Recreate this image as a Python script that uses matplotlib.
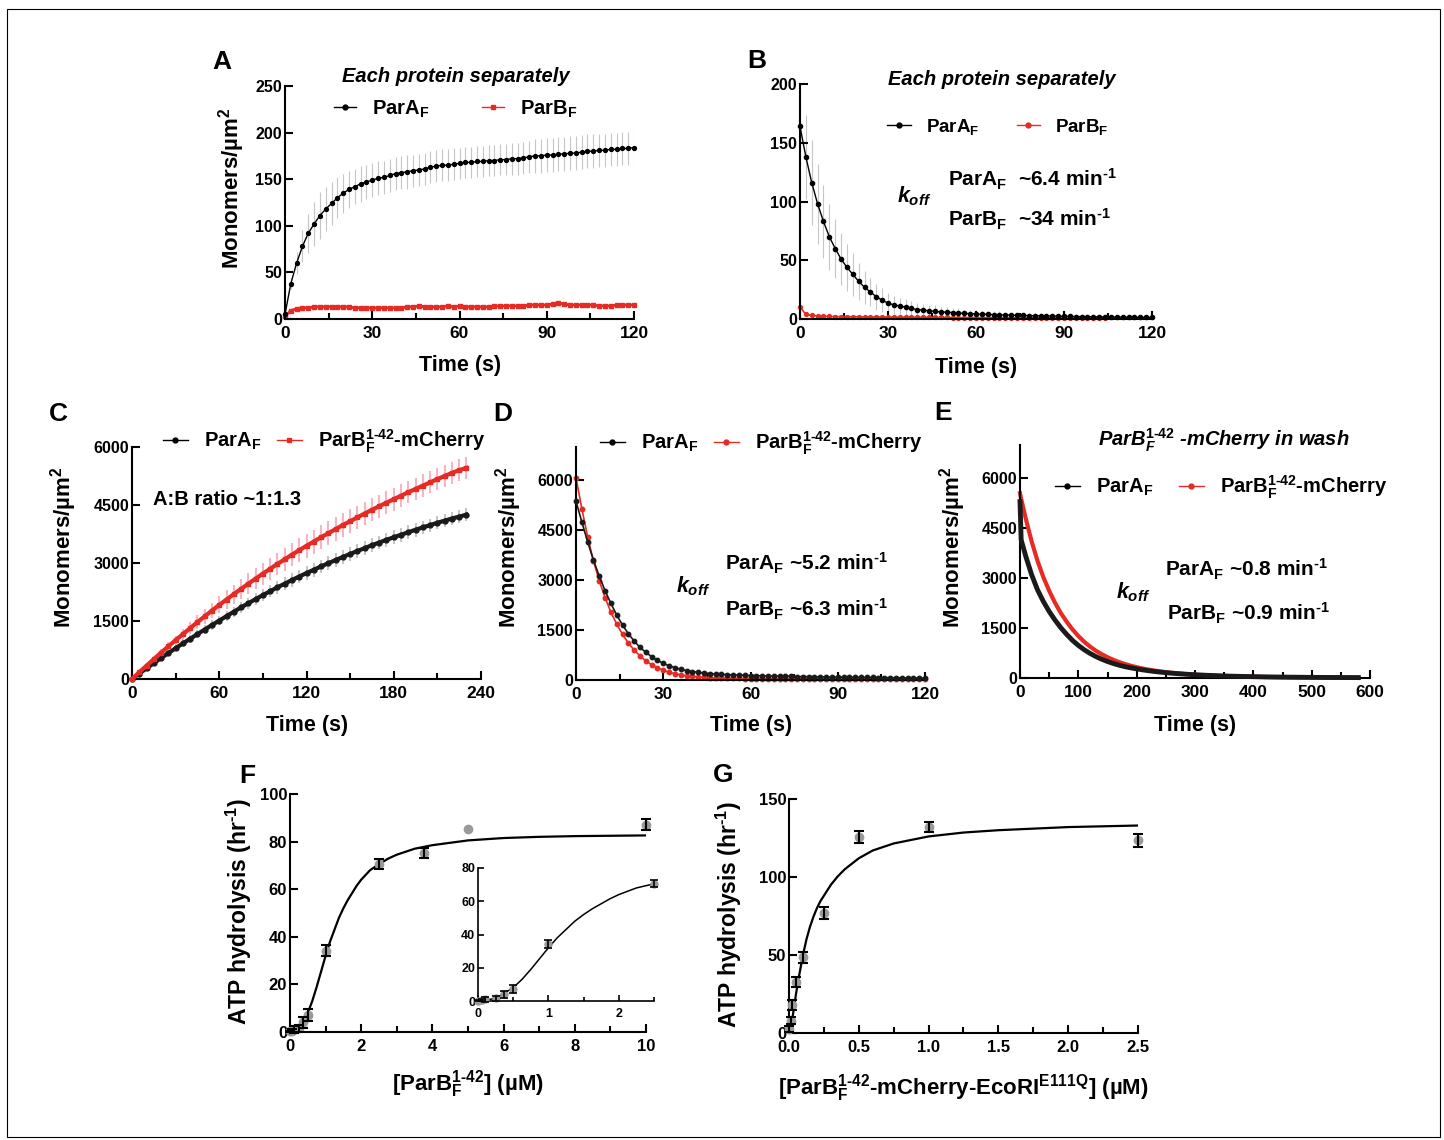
import matplotlib.pyplot as plt
import numpy as np
from matplotlib.lines import Line2D
from matplotlib.patches import Rectangle

plt.rcParams['font.family'] = ['Liberation Sans', 'DejaVu Sans']
plt.rcParams['font.weight'] = 'bold'
plt.rcParams['axes.labelweight'] = 'bold'
plt.rcParams['mathtext.fontset'] = 'custom'
plt.rcParams['mathtext.rm'] = 'Liberation Sans:bold'
plt.rcParams['mathtext.it'] = 'Liberation Sans:bold:italic'
plt.rcParams['mathtext.bf'] = 'Liberation Sans:bold'

RED = '#e62a24'
GREY_ERR = '#c6c6c6'
PINK_ERR = '#f5b5c3'
HY = '\u2010'

# ---- A: each protein separately, binding (s) ----
tA = np.arange(0, 121, 2)
parA_A = [5, 38, 60, 78, 92, 102, 111, 118, 124, 130,
          135, 139, 142, 145, 147, 149, 151, 152, 154, 156,
          157, 158, 159, 160, 161, 163, 164, 165, 165, 166,
          167, 168, 168, 169, 169, 170, 170, 171, 171, 172,
          172, 173, 174, 175, 175, 176, 176, 177, 177, 178,
          178, 179, 180, 180, 181, 181, 182, 182, 183, 183,
          184]
parA_A_err = [1, 6, 12, 17, 21, 24, 25, 24, 23, 22,
              21, 20, 19, 19, 18, 18, 18, 18, 18, 18,
              18, 18, 17, 17, 17, 17, 17, 17, 17, 17,
              17, 17, 17, 17, 17, 17, 17, 17, 17, 17,
              17, 17, 17, 18, 18, 18, 18, 18, 18, 18,
              18, 18, 18, 18, 18, 18, 18, 18, 18, 18,
              18]
parB_A = [3, 9, 11, 12, 12, 13, 13, 13, 13, 13,
          13, 13, 12, 12, 12, 12, 12, 12, 12, 12,
          12, 13, 13, 14, 13, 13, 13, 13, 14, 13,
          14, 13, 13, 13, 13, 13, 14, 14, 14, 14,
          14, 14, 15, 15, 15, 15, 16, 17, 16, 15,
          15, 15, 15, 15, 14, 14, 14, 15, 15, 15,
          15]

# ---- B: each protein separately, dissociation ----
tB = np.arange(0, 121, 2)
parA_B = [164, 138, 116, 98, 83, 70, 60, 51, 44, 38,
          32, 27, 23, 19, 16, 13.5, 12, 11, 10, 9,
          8, 7.5, 7, 6.5, 6, 5.8, 5.5, 5, 4.8, 4.5,
          4.3, 4, 3.9, 3.7, 3.5, 3.4, 3.2, 3.1, 3, 2.9,
          2.8, 2.7, 2.6, 2.5, 2.4, 2.3, 2.2, 2.1, 2, 2,
          1.9, 1.8, 1.8, 1.7, 1.6, 1.6, 1.5, 1.5, 1.4, 1.4,
          1.3]
parA_B_err = [20, 36, 36, 34, 31, 28, 25, 22, 20, 18,
              16, 14, 12, 11, 10, 9, 8, 7, 7, 6,
              6, 5, 5, 5, 4, 4, 4, 4, 3, 3,
              3, 3, 3, 3, 3, 2, 2, 2, 2, 2,
              2, 2, 2, 2, 2, 2, 2, 2, 2, 2,
              2, 2, 2, 2, 2, 2, 2, 2, 2, 2,
              2]
tB_red = np.arange(0, 105, 2)
parB_B = [10, 4, 3, 2.6, 2.4, 2.2, 2.1, 2, 2, 1.9,
          1.9, 1.8, 1.8, 1.7, 1.7, 1.6, 1.6, 1.5, 1.5, 1.5,
          1.4, 1.4, 1.4, 1.3, 1.3, 1.3, 1.2, 1.2, 1.2, 1.2,
          1.1, 1.1, 1.1, 1.1, 1, 1, 1, 1, 1, 0.9,
          0.9, 0.9, 0.9, 0.9, 0.8, 0.8, 0.8, 0.8, 0.8, 0.8,
          0.8, 0.7, 0.7]

# ---- C: co-binding ----
tC = np.arange(0, 231, 5)
parA_C = [0, 140, 275, 410, 540, 670, 795, 920, 1040, 1160,
          1280, 1395, 1510, 1625, 1740, 1850, 1960, 2065, 2170, 2270,
          2370, 2465, 2560, 2650, 2740, 2825, 2910, 2995, 3075, 3155,
          3235, 3310, 3385, 3460, 3530, 3600, 3665, 3730, 3795, 3860,
          3920, 3980, 4040, 4095, 4150, 4200, 4250]
parA_C_err = [0, 20, 35, 50, 60, 70, 80, 90, 100, 110,
              115, 120, 125, 130, 135, 140, 145, 150, 155, 160,
              165, 170, 170, 175, 175, 180, 180, 180, 180, 180,
              180, 180, 180, 180, 180, 180, 180, 175, 175, 175,
              175, 170, 170, 170, 165, 165, 160]
parB_C = [0, 175, 345, 515, 680, 845, 1005, 1160, 1315, 1470,
          1620, 1770, 1915, 2055, 2195, 2330, 2465, 2595, 2725, 2850,
          2975, 3095, 3215, 3330, 3445, 3555, 3665, 3770, 3875, 3980,
          4080, 4180, 4280, 4375, 4470, 4560, 4650, 4740, 4830, 4915,
          5000, 5085, 5170, 5250, 5330, 5400, 5460]
parB_C_err = [0, 25, 45, 65, 85, 105, 120, 140, 160, 175,
              190, 205, 220, 235, 245, 255, 265, 275, 285, 290,
              295, 300, 305, 305, 310, 310, 310, 310, 310, 305,
              305, 305, 300, 300, 300, 295, 295, 295, 290, 290,
              290, 285, 285, 285, 280, 280, 280]

# ---- D: co-dissociation ----
tD = np.arange(0, 121, 2)
parA_D = [5370, 4750, 4150, 3600, 3120, 2680, 2300, 1950, 1650, 1390,
          1170, 980, 830, 700, 590, 500, 430, 370, 320, 285,
          255, 230, 210, 195, 180, 170, 160, 152, 145, 140,
          135, 130, 126, 122, 118, 115, 112, 108, 105, 102,
          100, 97, 95, 92, 90, 88, 86, 84, 82, 80,
          78, 76, 74, 72, 70, 68, 66, 64, 62, 60,
          58]
parB_D = [6070, 5150, 4300, 3580, 2980, 2470, 2040, 1680, 1370, 1110,
          900, 720, 575, 460, 365, 290, 235, 190, 155, 128,
          108, 93, 81, 72, 65, 59, 54, 50, 47, 45,
          43, 41, 39, 37, 36, 35, 34, 33, 32, 31,
          30, 29, 29, 28, 27, 27, 26, 26, 25, 25,
          24, 24, 23, 23, 22, 22, 21, 21, 20, 20,
          20]

# ---- E: ParB in wash ----
tE = [0, 2, 10, 20, 30, 40, 50, 60, 70, 80, 90, 100, 110, 120, 130, 140,
      150, 160, 170, 180, 190, 200, 210, 220, 230, 240, 250, 260, 270, 280,
      290, 300, 320, 340, 360, 380, 400, 420, 440, 460, 480, 500, 520, 540,
      560, 580]
parA_E = [5300, 4150, 3650, 3100, 2650, 2300, 2000, 1740, 1510, 1310,
          1130, 980, 850, 740, 645, 565, 495, 435, 385, 340,
          305, 275, 245, 220, 198, 178, 160, 145, 131, 119,
          108, 98, 81, 67, 56, 47, 40, 34, 29, 25,
          22, 19, 17, 15, 13, 12]
parB_E = [5550, 5380, 4780, 4100, 3520, 3030, 2620, 2260, 1950, 1690,
          1460, 1260, 1090, 945, 820, 715, 625, 545, 478, 420,
          368, 324, 286, 253, 224, 198, 176, 156, 139, 124,
          110, 98, 78, 63, 51, 42, 35, 29, 24, 20,
          17, 15, 13, 11, 10, 9]

# ---- F: ATPase vs ParB 1-42 ----
conc_F = [0, 0.05, 0.1, 0.25, 0.375, 0.5, 1.0, 2.5, 3.75, 5.0, 10.0]
rate_F = [0.3, 0.6, 1.1, 1.6, 4.0, 7.2, 34.2, 70.6, 75.3, 85.5, 87.0]
err_F = [0.3, 0.5, 1.5, 1.5, 2.2, 2.4, 2.4, 2.1, 2.2, 0, 2.3]
fit_F_x = [0, 0.25, 0.5, 0.625, 0.75, 0.875, 1.0, 1.125, 1.25, 1.375, 1.5, 1.625,
           1.75, 1.875, 2.0, 2.25, 2.5, 2.75, 3.0, 3.5, 4.0, 5.0, 6.0, 7.0, 8.0, 10.0]
fit_F_y = [0, 1.5, 8, 13, 19, 25.5, 32, 38, 43, 48, 52, 55.5,
           58.5, 61.5, 64, 68, 70.5, 72.8, 74.5, 77, 78.5, 80.5, 81.5, 82, 82.3, 82.6]

# ---- G: ATPase vs ParB-mCherry-EcoRI ----
conc_G = [0, 0.0125, 0.025, 0.05, 0.1, 0.25, 0.5, 1.0, 2.5]
rate_G = [2.5, 8, 18, 32.5, 48.5, 77, 125.8, 131.8, 123.5]
err_G = [2, 2.5, 3, 3.2, 3.5, 4, 4, 3.2, 4]
fit_G_x = [0, 0.0125, 0.025, 0.0375, 0.05, 0.075, 0.1, 0.125, 0.15, 0.175, 0.2, 0.225,
           0.25, 0.3, 0.35, 0.4, 0.5, 0.6, 0.75, 1.0, 1.25, 1.5, 2.0, 2.5]
fit_G_y = [0, 4, 10, 17, 25, 38, 50, 60, 68, 74.5, 80, 84.5,
           88, 95, 100.5, 105, 112, 117, 121.5, 126, 128.5, 130, 132, 133]

PA = r'ParA$_{\mathrm{F}}$'
PB = r'ParB$_{\mathrm{F}}$'
PB142 = 'ParB$_{\\mathrm{F}}^{\\mathrm{1' + HY + '42}}$-mCherry'
MONO = r'Monomers/µm$^{\mathrm{2}}$'
PERMIN = ' min$^{\\mathrm{' + HY + '1}}$'

W, H = 1444, 1140
fig = plt.figure(figsize=(W / 100, H / 100), dpi=100)


def add_ax(l, t, r, b):
    return fig.add_axes([l / W, 1 - b / H, (r - l) / W, (b - t) / H])


def style(ax, xlim, xmaj, xmin, ylim, ymaj, xfs=12.5, yfs=11.5, lw=1.5, tl=5.5):
    for s in ['top', 'right']:
        ax.spines[s].set_visible(False)
    for s in ['left', 'bottom']:
        ax.spines[s].set_linewidth(lw)
    ax.set_xlim(*xlim)
    ax.set_ylim(*ylim)
    ax.set_xticks(xmaj)
    ax.set_xticks(xmin, minor=True)
    ax.set_yticks(ymaj)
    ax.tick_params(axis='x', which='major', direction='in', length=tl, width=lw, labelsize=xfs, pad=5)
    ax.tick_params(axis='x', which='minor', direction='in', length=tl * 0.8, width=lw)
    ax.tick_params(axis='y', which='major', direction='in', length=tl, width=lw, labelsize=yfs, pad=2)
    ax.patch.set_alpha(0)


def labels(ax, xlab, xc, xtop, ylab=None, yright=None, yc=None, xfs=15.5, yfs=16):
    ax.set_xlabel(xlab, fontsize=xfs)
    ax.xaxis.set_label_coords(xc / W, 1 - xtop / H, transform=fig.transFigure)
    if ylab:
        ax.set_ylabel(ylab, fontsize=yfs)
        ax.yaxis.set_label_coords(yright / W, 1 - yc / H, transform=fig.transFigure)


def legend_at(ax, handles, labs, cx, cy, fs, colsp, hl=1.2):
    ax.legend(handles, labs, ncol=2, loc='center', bbox_to_anchor=(cx / W, 1 - cy / H),
              bbox_transform=fig.transFigure, frameon=False, fontsize=fs,
              handlelength=hl, handletextpad=0.8, columnspacing=colsp,
              borderaxespad=0, borderpad=0)


def ftext(x, y, s, **kw):
    fig.text(x / W, 1 - y / H, s, **kw)


def h(color, marker):
    return Line2D([], [], color=color, marker=marker, ms=3.5, lw=1)


# A
ax = add_ax(285, 86, 634, 319)
ax.errorbar(tA, parA_A, yerr=parA_A_err, fmt='none', ecolor=GREY_ERR, elinewidth=0.8, zorder=1)
ax.plot(tA, parB_A, 's-', color=RED, ms=3, lw=2, zorder=2, clip_on=False)
ax.plot(tA, parA_A, 'o-', color='k', ms=2.8, lw=1, zorder=3, clip_on=False)
style(ax, (0, 120), [0, 30, 60, 90, 120], [15, 45, 75, 105], (0, 250), [0, 50, 100, 150, 200, 250])
labels(ax, 'Time (s)', 460, 355, MONO, 247, 188)
legend_at(ax, [h('k', 'o'), h(RED, 's')], [PA, PB], 456, 109, 14.5, 2.6, hl=1.1)
ftext(456, 82, 'Each protein separately', fontsize=14.5, style='italic', ha='center', va='baseline')

# B
ax = add_ax(800, 84, 1152, 319)
ax.errorbar(tB, parA_B, yerr=parA_B_err, fmt='none', ecolor=GREY_ERR, elinewidth=0.8, zorder=1)
ax.plot(tB, parA_B, 'o-', color='k', ms=3, lw=1, zorder=3, clip_on=False)
ax.plot(tB_red, parB_B, 'o-', color=RED, ms=2.8, lw=1.2, zorder=2, clip_on=False)
style(ax, (0, 120), [0, 30, 60, 90, 120], [15, 45, 75, 105], (0, 200), [0, 50, 100, 150, 200])
labels(ax, 'Time (s)', 976, 357)
legend_at(ax, [h('k', 'o'), h(RED, 'o')], [PA, PB], 998, 127, 13.5, 2.0, hl=1.25)
ftext(1002, 85, 'Each protein separately', fontsize=14.5, style='italic', ha='center', va='baseline')
ftext(897, 202, r'$k_{off}$', fontsize=15.5, ha='left', va='baseline')
ftext(948, 186, PA + '  ~6.4' + PERMIN, fontsize=15, ha='left', va='baseline')
ftext(948, 226, PB + '  ~34' + PERMIN, fontsize=15, ha='left', va='baseline')

# C
ax = add_ax(132, 447, 481, 679)
ax.errorbar(tC, parA_C, yerr=parA_C_err, fmt='none', ecolor=GREY_ERR, elinewidth=1.5, zorder=1)
ax.errorbar(tC, parB_C, yerr=parB_C_err, fmt='none', ecolor=PINK_ERR, elinewidth=1.5, zorder=1)
ax.plot(tC, parA_C, 'o-', color='#1a1a1a', ms=3.5, lw=3, zorder=3, clip_on=False)
ax.plot(tC, parB_C, 's-', color=RED, ms=3.5, lw=3, zorder=4, clip_on=False)
style(ax, (0, 240), [0, 60, 120, 180, 240], [30, 90, 150, 210], (0, 6000), [0, 1500, 3000, 4500, 6000])
labels(ax, 'Time (s)', 307, 715, MONO, 79, 547)
legend_at(ax, [h('k', 'o'), h(RED, 's')], [PA, PB142], 324, 441, 14.5, 0.75, hl=1.25)
ftext(153, 505, 'A:B ratio ~1:1.3', fontsize=14.5, ha='left', va='baseline')

# D
ax = add_ax(576, 447, 925, 680)
ax.plot(tD, parB_D, 'o-', color=RED, ms=3.2, lw=1.2, zorder=2, clip_on=False)
ax.plot(tD, parA_D, 'o-', color='#1a1a1a', ms=3.2, lw=1.2, zorder=3, clip_on=False)
style(ax, (0, 120), [0, 30, 60, 90, 120], [15, 45, 75, 105], (0, 7000), [0, 1500, 3000, 4500, 6000])
labels(ax, 'Time (s)', 751, 715, MONO, 524, 547)
legend_at(ax, [h('k', 'o'), h(RED, 'o')], [PA, PB142], 761, 443, 14.5, 0.75, hl=1.25)
ftext(676, 592, r'$k_{off}$', fontsize=15.5, ha='left', va='baseline')
ftext(725, 571, PA + ' ~5.2' + PERMIN, fontsize=15, ha='left', va='baseline')
ftext(725, 616, PB + ' ~6.3' + PERMIN, fontsize=15, ha='left', va='baseline')

# E
ax = add_ax(1020, 445, 1370, 678)
ax.plot(tE, parA_E, '-', color='#1a1a1a', lw=3.5, zorder=3, clip_on=False)
ax.plot(tE, parB_E, '-', color=RED, lw=3, zorder=2, clip_on=False)
style(ax, (0, 600), [0, 100, 200, 300, 400, 500, 600], [50, 150, 250, 350, 450, 550],
      (0, 7000), [0, 1500, 3000, 4500, 6000])
labels(ax, 'Time (s)', 1195, 715, MONO, 968, 547)
legend_at(ax, [h('k', 'o'), h(RED, 'o')], [PA, PB142], 1221, 487, 14.5, 1.25, hl=1.25)
ftext(1224, 446, 'ParB$_{\\mathit{F}}^{\\mathit{1' + HY + '42}}$ -mCherry in wash',
      fontsize=14.5, style='italic', ha='center', va='baseline')
ftext(1116, 598, r'$k_{off}$', fontsize=15.5, ha='left', va='baseline')
ftext(1165, 577, PA + ' ~0.8' + PERMIN, fontsize=15, ha='left', va='baseline')
ftext(1167, 621, PB + ' ~0.9' + PERMIN, fontsize=15, ha='left', va='baseline')

# F
has_err = [e > 0 for e in err_F]
ex_F = [x for x, m in zip(conc_F, has_err) if m]
ey_F = [y for y, m in zip(rate_F, has_err) if m]
ee_F = [e for e, m in zip(err_F, has_err) if m]

ax = add_ax(290, 794, 646, 1032)
ax.plot(fit_F_x, fit_F_y, '-', color='k', lw=1.6, zorder=2)
ax.plot(conc_F, rate_F, 'o', color='#9a9a9a', ms=6, zorder=3, clip_on=False)
ax.errorbar(ex_F, ey_F, yerr=ee_F, fmt='none', ecolor='k',
            elinewidth=1.5, capsize=3.8, capthick=1.5, zorder=4, clip_on=False)
style(ax, (0, 10), [0, 2, 4, 6, 8, 10], [1, 3, 5, 7, 9], (0, 100), [0, 20, 40, 60, 80, 100],
      xfs=12, yfs=12)
labels(ax, '[ParB$_{\\mathrm{F}}^{\\mathrm{1' + HY + '42}}$] (µM)', 468, 1068,
       r'ATP hydrolysis (hr$^{\mathrm{' + HY + '1}}$)', 254, 912, xfs=16, yfs=16.5)

# F inset (only the points inside 0-2.5 uM)
in_rng = [x <= 2.5 for x in conc_F]
axi = add_ax(478, 868, 654, 1001)
axi.plot(fit_F_x, fit_F_y, '-', color='k', lw=1.1, zorder=2)
axi.plot([x for x, m in zip(conc_F, in_rng) if m], [y for y, m in zip(rate_F, in_rng) if m],
         'o', color='#9a9a9a', ms=5, zorder=3, clip_on=False)
axi.errorbar([x for x in ex_F if x <= 2.5], [y for x, y in zip(ex_F, ey_F) if x <= 2.5],
             yerr=[e for x, e in zip(ex_F, ee_F) if x <= 2.5], fmt='none', ecolor='k',
             elinewidth=1.2, capsize=3, capthick=1.2, zorder=4, clip_on=False)
style(axi, (0, 2.5), [0, 1, 2], [0.5, 1.5, 2.5], (0, 80), [0, 20, 40, 60, 80],
      xfs=9, yfs=9, lw=1.2, tl=4)

# G
ax = add_ax(789, 799, 1138, 1033)
ax.plot(fit_G_x, fit_G_y, '-', color='k', lw=1.6, zorder=2)
ax.plot(conc_G, rate_G, 'o', color='#9a9a9a', ms=6, zorder=3, clip_on=False)
ax.errorbar(conc_G, rate_G, yerr=err_G, fmt='none', ecolor='k', elinewidth=1.5,
            capsize=3.8, capthick=1.5, zorder=4, clip_on=False)
style(ax, (0, 2.5), [0, 0.5, 1.0, 1.5, 2.0, 2.5], [0.25, 0.75, 1.25, 1.75, 2.25],
      (0, 150), [0, 50, 100, 150], xfs=12, yfs=12)
ax.xaxis.set_major_formatter(plt.FormatStrFormatter('%.1f'))
labels(ax, '[ParB$_{\\mathrm{F}}^{\\mathrm{1' + HY + '42}}$-mCherry-EcoRI$^{\\mathrm{E111Q}}$] (µM)',
       963, 1072, r'ATP hydrolysis (hr$^{\mathrm{' + HY + '1}}$)', 744, 915, xfs=16, yfs=16.5)

# panel letters
for letter, x, y in [('A', 222, 69), ('B', 757, 68), ('C', 58, 421), ('D', 503, 421),
                     ('E', 943, 420), ('F', 247, 783), ('G', 723, 782)]:
    ftext(x, y, letter, fontsize=19, ha='center', va='baseline')

fig.add_artist(Rectangle((7 / W, 1 - 1137 / H), (1440 - 7) / W, (1137 - 9) / H,
                         transform=fig.transFigure, fill=False, lw=0.8, ec='k'))

fig.savefig('out.png', dpi=100)
